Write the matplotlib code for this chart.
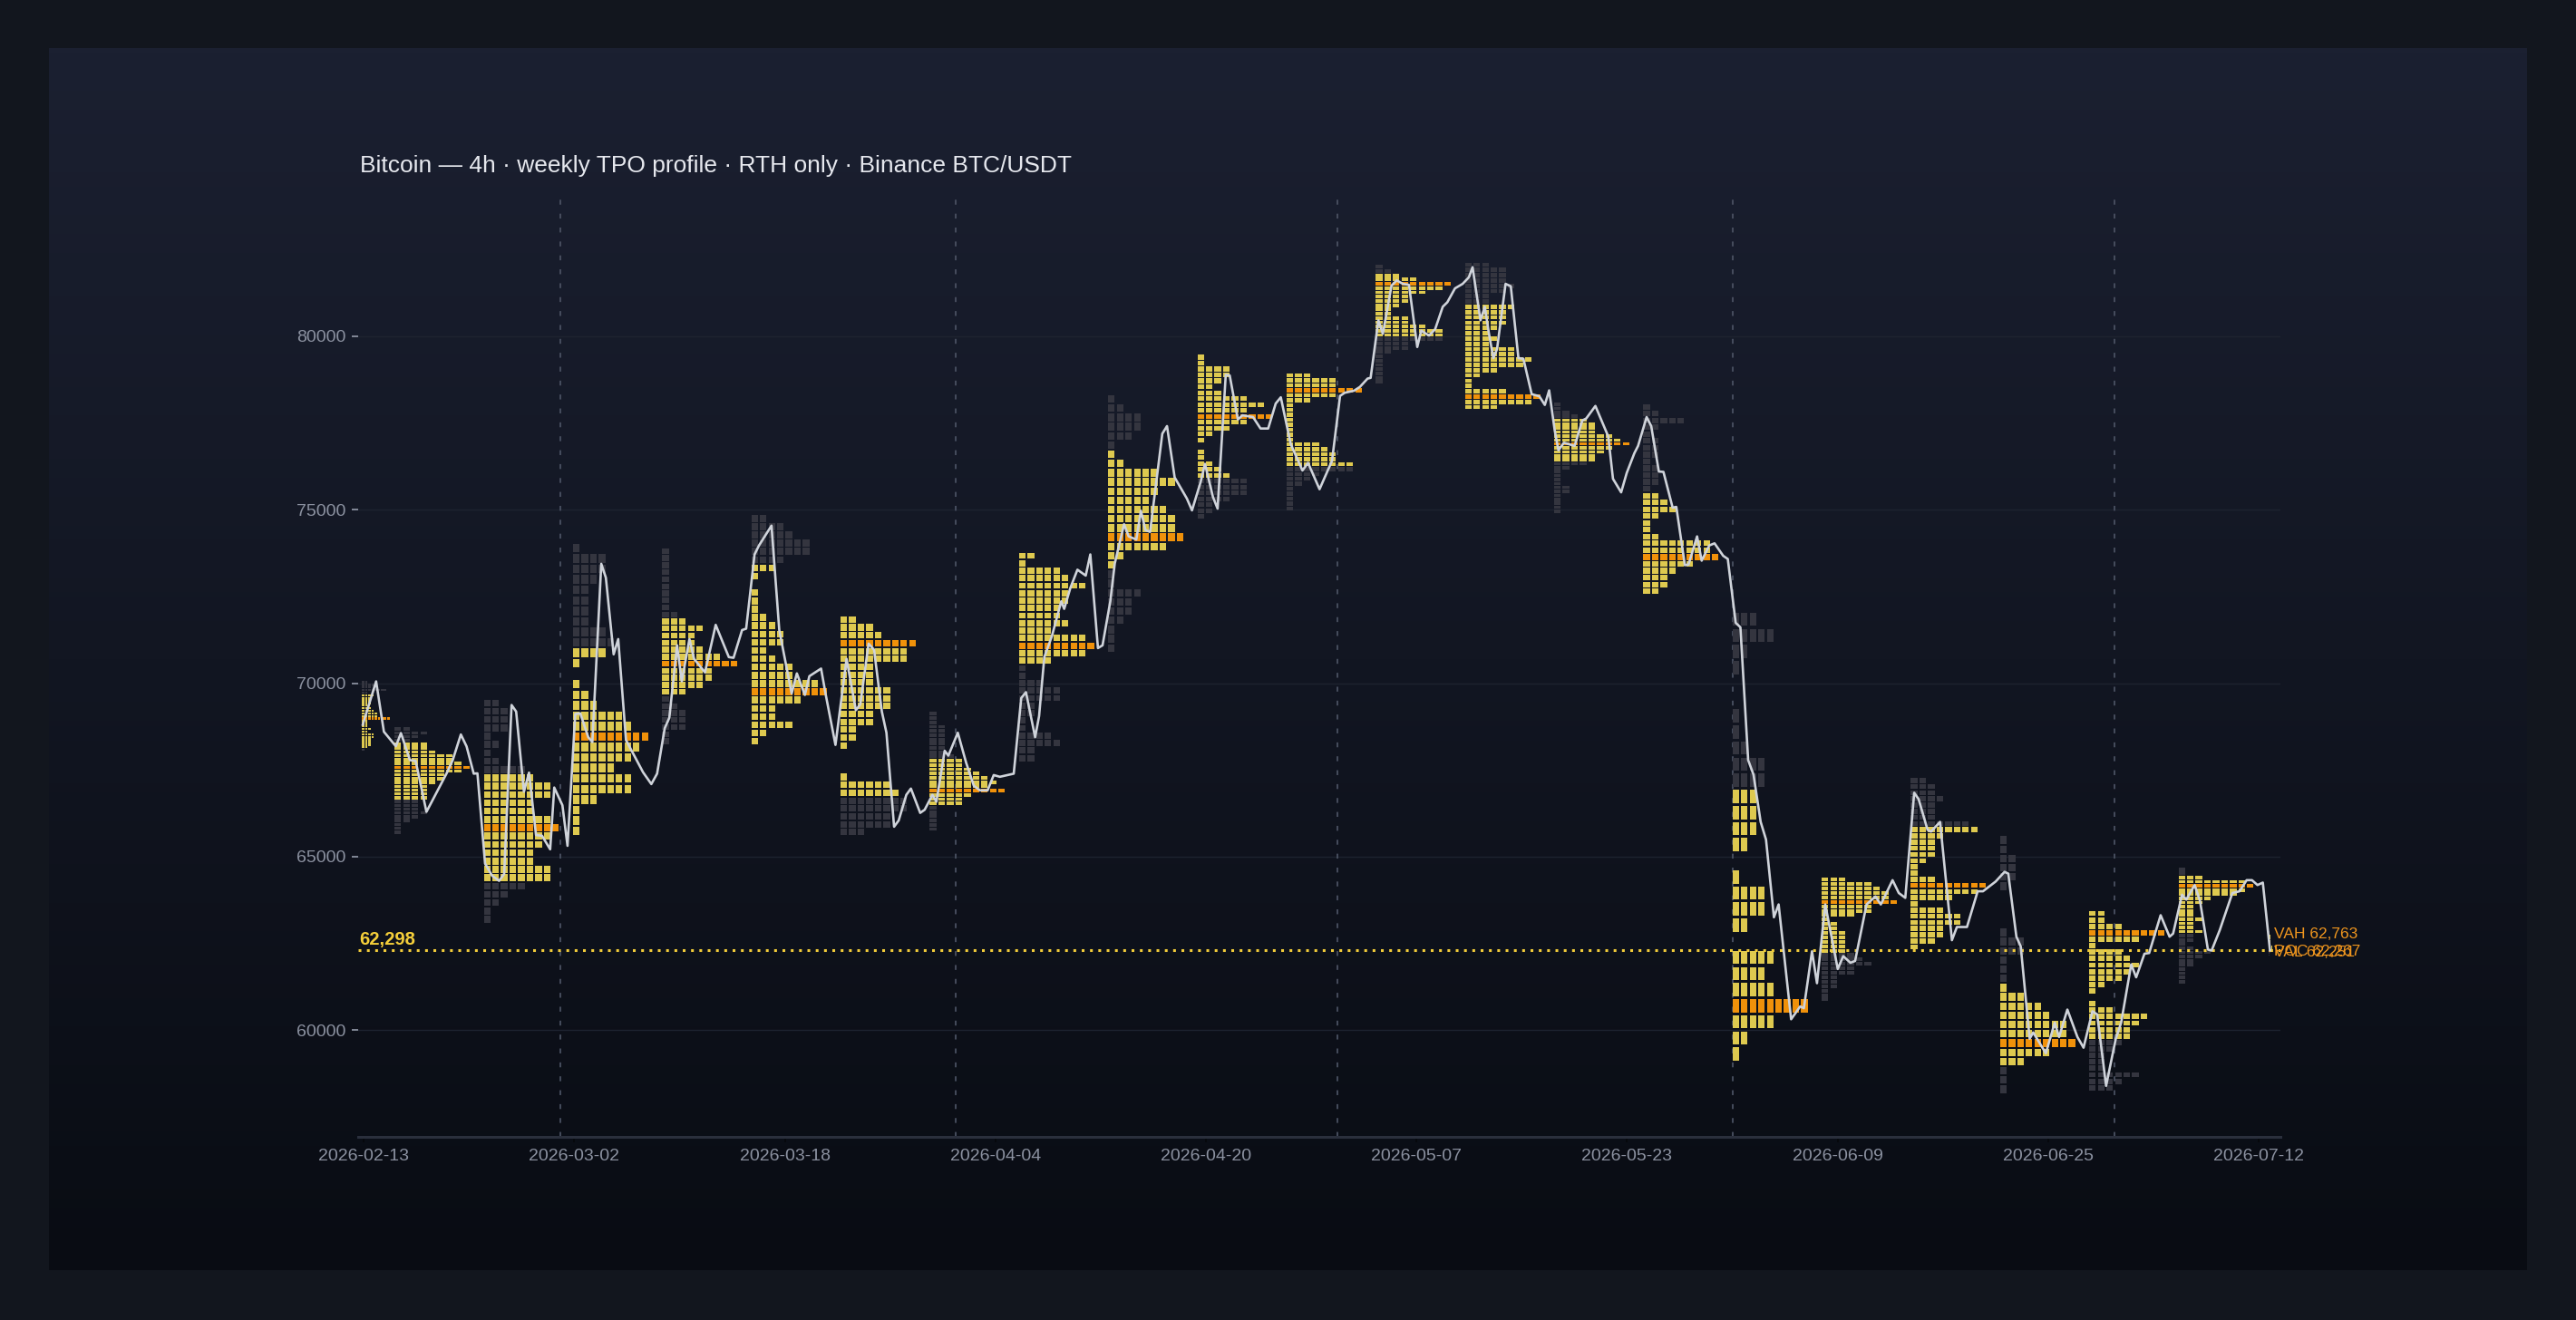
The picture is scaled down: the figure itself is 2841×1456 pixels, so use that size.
import numpy as np
import matplotlib
matplotlib.use("Agg")
import matplotlib.pyplot as plt
from matplotlib.patches import Rectangle
from matplotlib.collections import PatchCollection
from matplotlib.colors import LinearSegmentedColormap

plt.rcParams['font.family'] = ['Liberation Sans', 'DejaVu Sans']

# x axis is days since 2026-02-13 00:00
line_day = [0.5, 1.55, 2.16, 2.63, 3.1, 3.5, 4.2, 4.65, 5.5, 7.07, 7.56, 8.2, 8.65, 9.21, 9.5,
            10.1, 10.65, 11.2, 11.6, 12.18, 12.54, 13.15, 13.55, 14.1, 14.57, 15.21, 15.53, 16.17,
            16.57, 17.18, 17.57, 18.2, 18.52, 19.22, 19.58, 20.19, 20.55, 21.16, 22.5, 23.15, 23.6,
            24.2, 24.56, 25.17, 25.54, 26.14, 26.5, 27.36, 28.2, 29.23, 29.6, 30.27, 30.59, 31.25,
            31.6, 32.58, 33.19, 34.16, 34.57, 35.2, 35.55, 36.47, 36.84, 37.6, 38.47, 39.2, 39.55,
            40.2, 40.63, 41.24, 41.6, 42.2, 42.56, 43.16, 43.52, 44.25, 44.6, 45.21, 45.52, 46.17,
            46.46, 47.2, 47.86, 48.46, 48.94, 49.54, 50.02, 50.5, 51.59, 52.18, 52.55, 53.27, 53.58,
            53.99, 54.59, 55.32, 55.55, 56.04, 56.59, 57.24, 57.6, 58.2, 58.56, 59.17, 59.52, 60.25,
            60.61, 61.21, 61.57, 61.93, 62.29, 63.25, 63.62, 64.22, 65.18, 65.58, 66.26, 66.6, 67.23,
            67.59, 68.23, 68.54, 69.18, 69.54, 70.37, 70.96, 71.56, 72.15, 72.55, 73.33, 74.25,
            74.69, 75.59, 76.57, 77.2, 77.56, 78.3, 78.76, 79.36, 79.6, 80.21, 80.56, 81.24, 81.65,
            82.13, 82.61, 83.26, 83.57, 84.18, 84.66, 85.26, 85.62, 86.22, 86.82, 87.31, 87.6, 88.22,
            88.56, 88.87, 89.23, 89.52, 90.19, 90.6, 91.2, 91.59, 92.24, 92.84, 93.27, 93.61, 94.05,
            94.34, 94.77, 95.61, 96.21, 96.52, 97.24, 98.25, 98.62, 99.26, 99.7, 100.3, 100.59,
            101.26, 101.62, 102.22, 102.58, 103.3, 103.59, 104.26, 104.55, 105.22, 105.58, 106.18,
            106.59, 107.27, 107.63, 108.25, 108.62, 109.23, 109.65, 110.21, 110.63, 111.25, 111.62,
            112.6, 113.31, 113.6, 114.24, 114.63, 115.28, 116.26, 116.69, 117.25, 117.62, 118.52,
            119.22, 119.64, 120.56, 121.05, 121.56, 122.26, 122.6, 123.31, 123.58, 124.29, 125.22,
            125.61, 126.4, 127.24, 127.66, 128.65, 129.35, 129.64, 130.28, 130.62, 131.32, 131.6,
            132.59, 133.29, 133.63, 134.28, 135.07, 135.55, 136.25, 136.62, 137.32, 138.08, 138.5,
            139.29, 139.68, 140.33, 140.7, 141.6, 142.3, 142.58, 143.28, 143.62, 144.27, 144.69,
            145.31, 145.6, 146.24, 147.23, 147.79, 148.35, 148.77, 149.2, 149.62, 150.18]
line_px = [68800, 70050, 68600, 68390, 68180, 68560, 67780, 67760, 66290, 67390, 67780, 68520, 68175, 67390, 67400,
           64800, 64450, 64300, 64500, 69370, 69180, 66870, 67420, 65620, 65600, 65210, 66990, 66480,
           65310, 69110, 69130, 68440, 68300, 73440, 73040, 70830, 71270, 68360, 67430, 67090, 67390,
           68700, 69000, 71090, 70050, 71270, 70700, 70310, 71680, 70750, 70730, 71530, 71570, 73710,
           73970, 74540, 71530, 69700, 70280, 69660, 70200, 70420, 69660, 68220, 70700, 69220, 69390,
           71140, 70960, 69180, 68570, 65860, 66040, 66780, 66960, 66260, 66350, 66780, 66580, 68050,
           67910, 68570, 67700, 67040, 66910, 66910, 67350, 67300, 67390, 69570, 69740, 68440, 69050,
           70750, 71360, 72360, 72140, 72750, 73270, 73100, 73710, 71010, 71090, 72360, 73450, 74580,
           74230, 74140, 74970, 74410, 74360, 77190, 77410, 75930, 75320, 74980, 75800, 76320, 75360,
           75030, 78890, 78870, 77600, 77720, 77670, 77340, 77340, 78060, 78240, 76890, 76130,
           76350, 75590, 76410, 78280, 78370, 78430, 78540, 78780, 78800, 80460, 80070, 81460, 81610,
           81510, 81480, 79690, 80160, 80020, 80200, 80850, 80980, 81380, 81510, 81700, 81990, 80460,
           80850, 80110, 79370, 79630, 81510, 81440, 79370, 79350, 78330, 78270, 78020, 78440, 77280,
           76710, 76930, 76840, 77570, 77630, 77990, 77110, 75890, 75500, 76060, 76630, 76840,
           77670, 77410, 76100, 76090, 75060, 75080, 73400, 73420, 74230, 73530, 73970,
           74030, 73670, 73580, 71740, 71610, 67780, 67360, 66000, 65490, 63250, 63620,
           60310, 60680, 60630, 62270, 61350, 63620, 61760, 62130, 61940, 61990, 63620,
           63850, 63620, 64320, 63950, 63810, 66840, 66660, 65770, 65720, 66000, 62590,
           62970, 62970, 64000, 64000, 64280, 64560, 64510, 62690, 62410, 59750, 59930,
           59330, 60210, 59800, 60590, 59800, 59490, 60540, 60450, 58390, 59750, 60210,
           61890, 61520, 62200, 62220, 63310, 62690, 62780, 63900, 63760, 64180, 63720,
           62320, 62290, 62880, 63950, 64000, 64320, 64320, 64180, 64250, 62298]

# weekly TPO profiles: start day, span of the session (days), top price, bin size,
# TPO counts per row (top -> bottom), value-area rows (first, last)
prof_start = [0.45, 3, 10, 17, 24, 31, 38, 45, 52, 59, 66, 73, 80, 87, 94, 101, 108, 115, 122, 129, 136, 143, 150]
prof_span = [2.55] + [7] * 21 + [0.45]
prof_top = [70065, 68732, 69550, 74045, 73908, 74868, 71948, 69177, 73781, 78327, 79477, 78940,
            82064, 82139, 78092, 78066, 72070, 64400, 67286, 65610, 63454, 64697, 62955]
prof_bin = [75, 110, 240, 302, 203, 238, 227, 123, 216, 266, 170, 142,
            123, 152, 114, 197, 464, 128, 178, 266, 186, 120, 32]
prof_counts = [
    [2, 5, 3, 8, 2, 4, 3, 3, 3, 2, 3, 4, 5, 5, 9, 2, 2, 2, 3, 2, 4, 4, 3, 3, 3, 2, 1],
    [2, 4, 3, 2, 4, 4, 5, 7, 7, 8, 9, 8, 6, 6, 5, 4, 4, 4, 4, 3, 3, 3, 4, 3, 2, 1, 1, 1],
    [2, 3, 3, 3, 1, 2, 1, 2, 5, 6, 8, 8, 6, 6, 8, 9, 8, 7, 6, 6, 8, 8, 5, 3, 2, 1, 1],
    [1, 4, 4, 3, 2, 2, 2, 2, 4, 5, 4, 1, 0, 1, 2, 3, 6, 7, 9, 8, 7, 5, 7, 7, 3, 1, 1, 1],
    [1, 1, 1, 1, 1, 1, 1, 1, 1, 2, 3, 5, 4, 4, 5, 7, 9, 6, 6, 5, 3, 1, 2, 3, 3, 3, 1, 1],
    [2, 4, 5, 7, 7, 4, 3, 1, 0, 1, 1, 1, 2, 3, 4, 4, 2, 3, 5, 5, 8, 9, 6, 3, 3, 5, 2, 1],
    [2, 4, 5, 9, 8, 8, 4, 4, 4, 6, 6, 6, 4, 4, 2, 2, 1, 0, 0, 0, 1, 6, 7, 8, 8, 6, 6, 3],
    [1, 1, 1, 2, 2, 2, 2, 2, 2, 2, 3, 4, 4, 5, 6, 7, 8, 7, 9, 5, 4, 4, 1, 1, 1, 1, 1, 1],
    [2, 1, 5, 6, 8, 6, 6, 5, 5, 6, 4, 8, 9, 8, 4, 1, 1, 3, 5, 5, 2, 2, 1, 1, 4, 5, 2, 2],
    [1, 2, 4, 4, 3, 1, 1, 2, 6, 8, 6, 5, 7, 8, 8, 9, 7, 2, 1, 1, 1, 4, 3, 3, 2, 1, 1, 1],
    [1, 1, 4, 4, 3, 2, 3, 6, 8, 6, 9, 6, 4, 2, 1, 0, 1, 1, 2, 3, 4, 6, 6, 6, 4, 2, 2, 1],
    [3, 6, 6, 9, 6, 3, 1, 1, 1, 1, 1, 1, 1, 1, 4, 5, 6, 6, 8, 8, 4, 3, 2, 1, 1, 1, 1, 1],
    [1, 2, 3, 5, 9, 8, 6, 4, 4, 3, 2, 2, 4, 4, 6, 8, 8, 8, 4, 4, 2, 1, 1, 1, 1, 1, 1, 1],
    [3, 5, 5, 5, 6, 5, 3, 3, 6, 5, 5, 5, 4, 3, 4, 3, 6, 6, 8, 7, 4, 2, 1, 1, 5, 9, 8, 4],
    [1, 1, 2, 3, 4, 5, 5, 5, 7, 8, 9, 7, 6, 5, 5, 4, 2, 1, 1, 1, 1, 2, 2, 1, 1, 1, 1, 1],
    [1, 2, 5, 2, 1, 2, 2, 2, 1, 2, 2, 2, 1, 2, 3, 4, 2, 1, 1, 2, 8, 8, 9, 6, 4, 3, 3, 2],
    [3, 5, 2, 1, 0, 0, 1, 1, 2, 4, 4, 3, 3, 3, 2, 0, 1, 4, 4, 2, 0, 5, 4, 5, 9, 5, 2, 1],
    [3, 6, 7, 8, 8, 9, 6, 6, 4, 1, 2, 2, 3, 3, 3, 3, 3, 4, 5, 6, 4, 4, 2, 2, 2, 1, 1, 1],
    [2, 3, 3, 4, 3, 3, 3, 7, 8, 4, 3, 3, 3, 2, 1, 1, 3, 9, 8, 5, 1, 4, 6, 6, 4, 4, 3, 1],
    [1, 1, 2, 2, 2, 1, 0, 0, 0, 0, 1, 3, 3, 1, 1, 1, 1, 3, 5, 6, 8, 8, 9, 6, 3, 1, 1, 1],
    [2, 2, 4, 9, 6, 1, 4, 5, 6, 5, 4, 2, 1, 0, 1, 3, 7, 6, 5, 5, 4, 3, 2, 2, 2, 6, 4, 3],
    [1, 1, 3, 8, 9, 8, 7, 4, 3, 2, 2, 2, 3, 2, 2, 3, 2, 2, 1, 2, 4, 3, 2, 2, 1, 1, 1, 1],
    [1, 2, 2, 3, 3, 4, 5, 6, 7, 7, 6, 6, 5, 6, 7, 7, 8, 8, 8, 8, 8, 9, 5, 4, 3, 2, 2, 1],
]
prof_va = [(5, 25), (4, 18), (9, 21), (10, 27), (10, 20), (6, 27), (0, 22), (11, 21), (0, 14),
           (6, 18), (0, 20), (0, 18), (2, 16), (8, 27), (4, 14), (13, 27), (11, 27), (0, 16),
           (8, 27), (16, 24), (0, 19), (2, 15), (6, 21)]

last_price = 62298
last_levels = [('VAH', 62763), ('POC', 62267), ('VAL', 62251)]

month_days = [16, 47, 77, 108, 138]
tick_days = np.linspace(0.57, 149.3, 10)
tick_labels = ['2026-02-13', '2026-03-02', '2026-03-18', '2026-04-04', '2026-04-20',
               '2026-05-07', '2026-05-23', '2026-06-09', '2026-06-25', '2026-07-12']
y_ticks = [60000, 65000, 70000, 75000, 80000]

YELLOW = '#dec94f'
ORANGE = '#f0910a'
GRAY = '#34353f'
W, H = 2841, 1456

fig = plt.figure(figsize=(W / 100, H / 100), dpi=100, facecolor='#12161e')

# panel with vertical gradient
bg = fig.add_axes([54 / W, 1 - 1401 / H, (2787 - 54) / W, (1401 - 53) / H])
cmap = LinearSegmentedColormap.from_list('panel', ['#1b2031', '#090c13'])
bg.imshow(np.linspace(0, 1, 256)[:, None], aspect='auto', cmap=cmap, extent=[0, 1, 0, 1])
bg.axis('off')

ax = fig.add_axes([395 / W, 1 - 1254 / H, 2120 / W, (1254 - 214) / H])
ax.patch.set_alpha(0)

# TPO blocks
rects, colors = [], []
for k in range(len(prof_start)):
    counts = prof_counts[k]
    b = prof_bin[k]
    pitch = 0.865 * prof_span[k] / 9
    poc = int(np.argmax(counts))
    lo, hi = prof_va[k]
    for i, c in enumerate(counts):
        y0 = prof_top[k] - (i + 1) * b
        if i == poc:
            col = ORANGE
        elif lo <= i <= hi:
            col = YELLOW
        else:
            col = GRAY
        for j in range(c):
            rects.append(Rectangle((prof_start[k] + j * pitch, y0 + 0.09 * b), 0.77 * pitch, 0.82 * b))
            colors.append(col)
ax.add_collection(PatchCollection(rects, facecolors=colors, edgecolors='none', zorder=2))

for d in month_days:
    ax.axvline(d, color='#4a5162', lw=1.3, ls=(0, (3, 5.5)), zorder=1)

ax.axhline(last_price, color='#f2cc3a', lw=2.2, ls=(0, (1, 2)), dash_capstyle='butt', zorder=3)
ax.plot(line_day, line_px, color='#cfd3da', lw=1.9, zorder=4)

ax.text(0.2, last_price + 60, f'{last_price:,}', color='#f5cf3a', fontsize=14.5,
        fontweight='bold', va='bottom', ha='left', zorder=5)
for name, v in last_levels:
    ax.text(150.5, v, f'{name} {v:,}', color='#f0961e', fontsize=12.5, va='center', ha='left',
            zorder=5, clip_on=False)

ax.set_xlim(0.14, 151.0)
ax.set_ylim(56920, 84100)
ax.set_xticks(tick_days)
ax.set_xticklabels(tick_labels)
ax.set_yticks(y_ticks)
ax.set_yticklabels([str(v) for v in y_ticks])
ax.tick_params(axis='x', colors='#06080c', labelcolor='#8b91a0', labelsize=14, length=4.5, width=1.3, pad=5)
ax.tick_params(axis='y', colors='#8b91a0', labelcolor='#8b91a0', labelsize=14, length=5, width=1.3, pad=5)
ax.yaxis.grid(True, color='#1e2330', lw=1)
ax.set_axisbelow(True)
for s in ['top', 'right', 'left']:
    ax.spines[s].set_visible(False)
ax.spines['bottom'].set_color('#2a2f3c')
ax.spines['bottom'].set_linewidth(2.2)

fig.text(397 / W, 1 - 183 / H, 'Bitcoin \u2014 4h \u00b7 weekly TPO profile \u00b7 RTH only \u00b7 Binance BTC/USDT',
         color='#e6e8ee', fontsize=19, va='center', ha='left')

fig.savefig('out.png', dpi=100, facecolor=fig.get_facecolor())
